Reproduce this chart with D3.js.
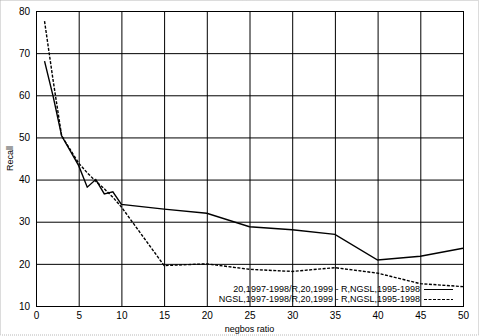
<!DOCTYPE html>
<html>
<head>
<meta charset="utf-8">
<script src="https://cdn.jsdelivr.net/npm/d3@7"></script>
<style>
  html, body { margin: 0; padding: 0; background: #fff; }
  svg { display: block; }
</style>
</head>
<body>
<svg id="chart" width="480" height="336"></svg>
<script>
// Ratio values along the x axis
const ratios = [1, 2, 3, 5, 6, 7, 8, 9, 10, 15, 20, 25, 30, 35, 40, 45, 50];
// Recall for the "20,1997-1998" training set
const recall20 = [68.1, 59.8, 50.4, 43.3, 38.2, 40.0, 36.6, 37.1, 34.1, 33.0, 32.0, 28.8, 28.1, 27.0, 20.9, 21.8, 23.7];
// Recall for the "NGSL,1997-1998" training set
const recallNGSL = [77.6, 63.6, 50.4, 43.9, 41.6, 39.6, 37.8, 35.8, 33.5, 19.6, 20.0, 18.7, 18.2, 19.1, 17.8, 15.3, 14.6];
const seriesNames = [
  "20,1997-1998/R,20,1999 - R,NGSL,1995-1998",
  "NGSL,1997-1998/R,20,1999 - R,NGSL,1995-1998"
];
const xTicks = [0, 5, 10, 15, 20, 25, 30, 35, 40, 45, 50];
const yTicks = [10, 20, 30, 40, 50, 60, 70, 80];
const xTitle = "negbos ratio";
const yTitle = "Recall";

const svg = d3.select("#chart");
const plotL = 36, plotR = 463, plotT = 11, plotB = 306;
const font = "'Liberation Sans', Arial, sans-serif";

// dotted frame round the picture
svg.append("rect")
  .attr("x", 0.5).attr("y", 0.5).attr("width", 478).attr("height", 334.5)
  .attr("fill", "none").attr("stroke", "#b8b8b8").attr("stroke-dasharray", "1,1");

const x = d3.scaleLinear().domain([0, 50]).range([plotL, plotR]);
const y = d3.scaleLinear().domain([10, 80]).range([plotB, plotT]);

// grid + tick labels
const gx = svg.append("g").attr("transform", `translate(0,${plotB})`)
  .call(d3.axisBottom(x).tickValues(xTicks).tickSize(-(plotB - plotT)).tickPadding(6).tickFormat(d3.format("d")));
const gy = svg.append("g").attr("transform", `translate(${plotL},0)`)
  .call(d3.axisLeft(y).tickValues(yTicks).tickSize(-(plotR - plotL)).tickPadding(6).tickFormat(d3.format("d")));
[gx, gy].forEach(g => {
  g.select(".domain").remove();
  g.selectAll("line").attr("stroke", "#000").attr("stroke-width", 1);
  g.selectAll("text").attr("fill", "#000").style("font-family", font).style("font-size", "10px");
});

// plot border
svg.append("rect")
  .attr("x", plotL + 0.5).attr("y", plotT + 0.5)
  .attr("width", plotR - plotL).attr("height", plotB - plotT)
  .attr("fill", "none").attr("stroke", "#000").attr("stroke-width", 1);

const line = d3.line().x((d, i) => x(ratios[i])).y(d => y(d));

svg.append("path").datum(recall20)
  .attr("d", line).attr("fill", "none").attr("stroke", "#000").attr("stroke-width", 1.4);
svg.append("path").datum(recallNGSL)
  .attr("d", line).attr("fill", "none").attr("stroke", "#000").attr("stroke-width", 1.4)
  .attr("stroke-dasharray", "3,1.5");

// legend
const legendY = [289, 299];
const dashes = [null, "3,1.5"];
seriesNames.forEach((name, i) => {
  svg.append("text")
    .attr("x", 420).attr("y", legendY[i]).attr("dy", "0.35em")
    .attr("text-anchor", "end")
    .style("font-family", font).style("font-size", "9px")
    .text(name);
  svg.append("line")
    .attr("x1", 424).attr("x2", 453).attr("y1", legendY[i] + 0.5).attr("y2", legendY[i] + 0.5)
    .attr("stroke", "#000").attr("stroke-width", 1)
    .attr("stroke-dasharray", dashes[i]);
});

// axis titles
svg.append("text")
  .attr("x", (plotL + plotR) / 2).attr("y", 329).attr("dy", "0.35em")
  .attr("text-anchor", "middle")
  .style("font-family", font).style("font-size", "9px")
  .text(xTitle);
svg.append("text")
  .attr("transform", `translate(10,${(plotT + plotB) / 2}) rotate(-90)`)
  .attr("text-anchor", "middle").attr("dy", "0.35em")
  .style("font-family", font).style("font-size", "9px")
  .text(yTitle);
</script>
</body>
</html>
